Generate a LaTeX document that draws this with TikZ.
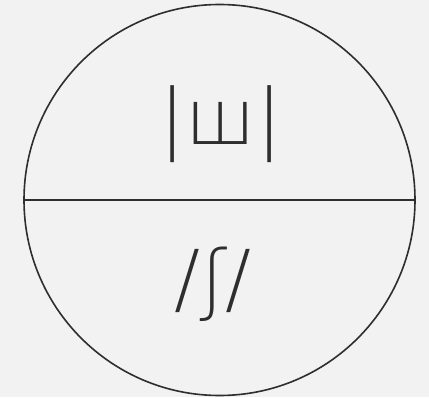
\documentclass[tikz,border=0pt]{standalone}
\usepackage{fontspec}
\usepackage{xcolor}
\newfontfamily\glyphfont{DejaVuSans-ExtraLight.ttf}
\definecolor{discline}{HTML}{2E2E2E}
\definecolor{discbg}{HTML}{F2F2F2}
\usetikzlibrary{positioning}

\begin{document}
\begin{tikzpicture}[
  x=1pt, y=1pt,
  disc/.style={circle, draw=discline, line width=1.6pt, minimum size=391pt, inner sep=0pt},
  glyph/.style={font=\glyphfont\fontsize{77}{90}\selectfont, text=discline, inner sep=0pt}
]
\fill[discbg] (0,0) rectangle (429,397);
\useasboundingbox (0,0) rectangle (429,397);

\node[disc] (sign) at (219.5,197) {};
\draw[discline, line width=1.6pt] (sign.west) -- (sign.east);

\node[glyph] (letter) at (221,273) {|ш|};
\node[glyph] (sound) at (213,113) {/ʃ/};

\end{tikzpicture}
\end{document}
